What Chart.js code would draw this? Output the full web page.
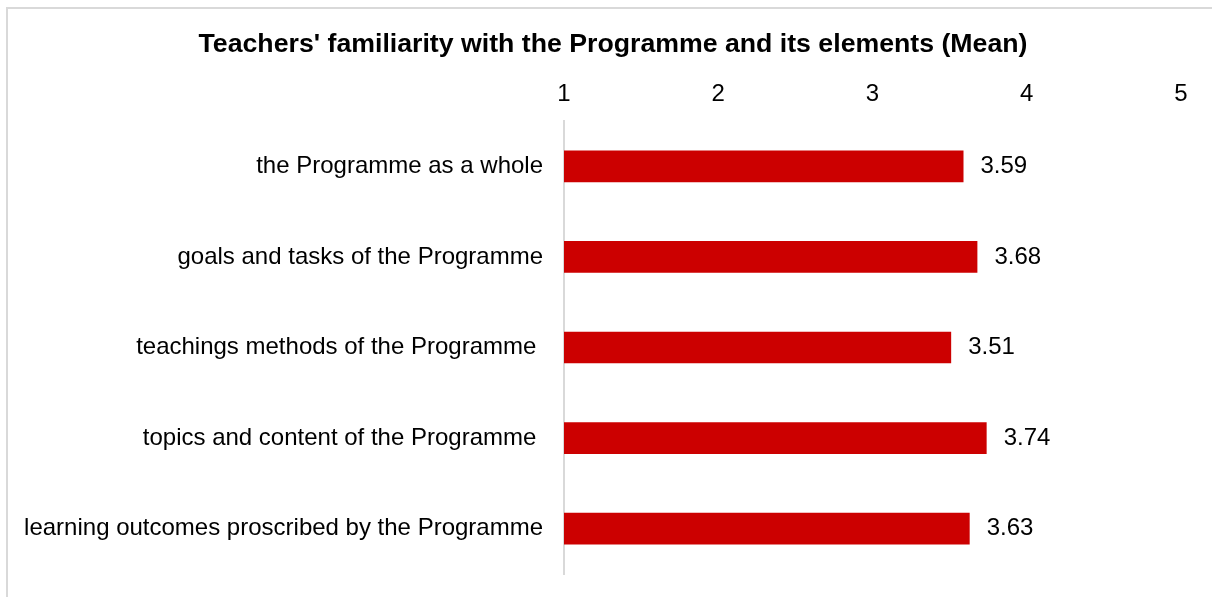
<!DOCTYPE html>
<html>
<head>
<meta charset="utf-8">
<script src="https://cdn.jsdelivr.net/npm/chart.js@4/dist/chart.umd.min.js"></script>
<style>
  html, body { margin: 0; padding: 0; background: #fff; }
  #wrap { position: relative; width: 1212px; height: 597px; }
  #frame {
    position: absolute; left: 6px; top: 7px; right: 0; bottom: 0;
    border-top: 2px solid #d9d9d9; border-left: 2px solid #d9d9d9;
  }
  canvas { position: absolute; left: 0; top: 0; }
</style>
</head>
<body>
<div id="wrap">
  <div id="frame"></div>
  <canvas id="chart" width="1212" height="597"></canvas>
</div>
<script>
const TITLE = "Teachers' familiarity with the Programme and its elements (Mean)"
const ITEMS = [
  "the Programme as a whole",
  "goals and tasks of the Programme",
  "teachings methods of the Programme ",
  "topics and content of the Programme ",
  "learning outcomes proscribed by the Programme",
]
const MEANS = [3.59, 3.68, 3.51, 3.74, 3.63]
const SCALE_TICKS = [1, 2, 3, 4, 5]

const FONT = "Arial, 'Liberation Sans', sans-serif"
const BAR_RED = "#cc0000"

// Title sits over the whole frame, not just the plot, so it is drawn by hand
const frameTitle = {
  id: "frameTitle",
  afterDraw(chart) {
    const { ctx } = chart
    ctx.save()
    ctx.font = `bold 26.7px ${FONT}`
    ctx.fillStyle = "#000"
    ctx.textAlign = "center"
    ctx.textBaseline = "middle"
    ctx.fillText(TITLE, 613, 45)
    ctx.restore()
  }
}

// Writes the mean to the right of each bar
const valueLabels = {
  id: "valueLabels",
  afterDatasetsDraw(chart) {
    const { ctx } = chart
    const meta = chart.getDatasetMeta(0)
    ctx.save()
    ctx.font = `24px ${FONT}`
    ctx.fillStyle = "#000"
    ctx.textAlign = "left"
    ctx.textBaseline = "middle"
    meta.data.forEach((bar, i) => {
      ctx.fillText(MEANS[i].toFixed(2), bar.x + 17, bar.y)
    })
    ctx.restore()
  }
}

new Chart(document.getElementById("chart"), {
  type: "bar",
  data: {
    labels: ITEMS,
    datasets: [{
      data: MEANS,
      backgroundColor: BAR_RED,
      borderWidth: 0,
      barPercentage: 0.35,
      categoryPercentage: 1,
      base: 1,
    }]
  },
  options: {
    indexAxis: "y",
    responsive: false,
    animation: false,
    layout: { padding: { left: 0, right: 31, top: 78.2, bottom: 23 } },
    plugins: {
      legend: { display: false },
      tooltip: { enabled: false },
      title: { display: false },
    },
    scales: {
      x: {
        position: "top",
        min: 1,
        max: 5,
        afterBuildTicks: (axis) => {
          axis.ticks = SCALE_TICKS.map(v => ({ value: v }))
        },
        afterFit: (axis) => {
          axis.height = 42.8
          axis.paddingLeft = 0
          axis.paddingRight = 0
        },
        grid: { display: false, drawTicks: false },
        border: { display: false },
        ticks: {
          color: "#000",
          padding: 12,
          font: { family: FONT, size: 24 },
        }
      },
      y: {
        afterFit: (axis) => {
          axis.width = 564
          axis.paddingTop = 0
          axis.paddingBottom = 0
        },
        grid: { display: false, drawTicks: false },
        border: { display: true, color: "#d9d9d9", width: 2 },
        ticks: {
          color: "#000",
          padding: 21,
          font: { family: FONT, size: 24 },
        }
      }
    }
  },
  plugins: [valueLabels, frameTitle]
})
</script>
</body>
</html>
